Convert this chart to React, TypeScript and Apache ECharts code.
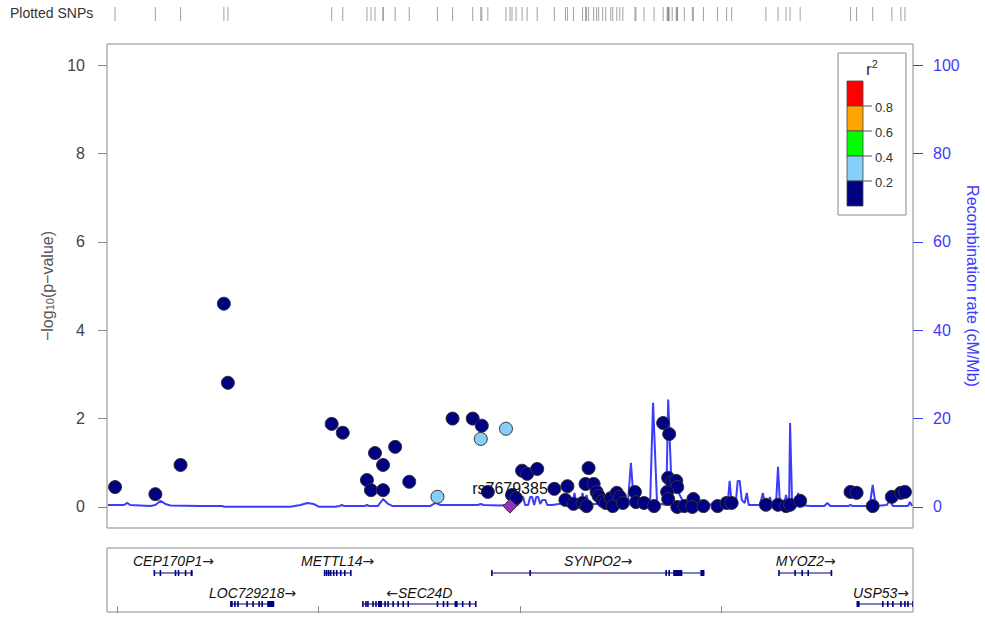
import React, { useEffect, useRef } from "react";
import * as echarts from "echarts";

const FONT = "'Liberation Sans', Arial, sans-serif";

// ---- axis ranges / ticks ----
const X_MIN = 119.39;
const X_MAX = 120.19;
const xTickValues = [119.4, 119.6, 119.8, 120.0];
const pTickValues = [0, 2, 4, 6, 8, 10];
const recTickValues = [0, 20, 40, 60, 80, 100];

// ---- SNPs (position in Mb, -log10 p, r2 with lead) ----
const snpPos = [
  119.398, 119.438, 119.463, 119.506, 119.51, 119.613, 119.624, 119.648, 119.652, 119.656,
  119.664, 119.664, 119.676, 119.69, 119.718, 119.733, 119.753, 119.762, 119.761, 119.786,
  119.768, 119.792, 119.796, 119.802, 119.807, 119.817, 119.834, 119.847, 119.845, 119.853,
  119.862, 119.865, 119.868, 119.866, 119.873, 119.876, 119.878, 119.882, 119.885, 119.89,
  119.892, 119.896, 119.899, 119.902, 119.914, 119.915, 119.923, 119.933, 119.942, 119.948,
  119.947, 119.951, 119.955, 119.956, 119.946, 119.947, 119.956, 119.963, 119.972, 119.971,
  119.982, 119.996, 120.005, 120.01, 120.044, 120.056, 120.064, 120.068, 120.078, 120.128,
  120.134, 120.15, 120.169, 120.178, 120.182,
];
const snpLogP = [
  0.45, 0.29, 0.95, 4.6, 2.81, 1.88, 1.68, 0.61, 0.38, 1.22,
  0.95, 0.38, 1.36, 0.57, 0.23, 2.0, 2.0, 1.84, 1.54, 1.77,
  0.34, 0.27, 0.2, 0.82, 0.75, 0.86, 0.41, 0.47, 0.16, 0.07,
  0.09, 0.52, 0.88, 0.02, 0.52, 0.34, 0.25, 0.14, 0.09, 0.2,
  0.02, 0.32, 0.23, 0.09, 0.34, 0.11, 0.09, 0.02, 1.9, 1.65,
  0.66, 0.57, 0.59, 0.45, 0.34, 0.18, 0.0, 0.02, 0.18, 0.0,
  0.02, 0.02, 0.09, 0.09, 0.05, 0.05, 0.02, 0.05, 0.14, 0.34,
  0.32, 0.02, 0.23, 0.32, 0.34,
];
const snpR2 = [
  0.05, 0.05, 0.05, 0.05, 0.05, 0.05, 0.05, 0.05, 0.05, 0.05,
  0.05, 0.05, 0.05, 0.05, 0.25, 0.05, 0.05, 0.05, 0.25, 0.25,
  0.05, 0.05, 0.05, 0.05, 0.05, 0.05, 0.05, 0.05, 0.05, 0.05,
  0.05, 0.05, 0.05, 0.05, 0.05, 0.05, 0.05, 0.05, 0.05, 0.05,
  0.05, 0.05, 0.05, 0.05, 0.05, 0.05, 0.05, 0.05, 0.05, 0.05,
  0.05, 0.05, 0.05, 0.05, 0.05, 0.05, 0.05, 0.05, 0.05, 0.05,
  0.05, 0.05, 0.05, 0.05, 0.05, 0.05, 0.05, 0.05, 0.05, 0.05,
  0.05, 0.05, 0.05, 0.05, 0.05,
];
const leadName = "rs7679385";
const leadPos = 119.79;
const leadLogP = 0.02;

// ---- recombination rate (Mb, cM/Mb) ----
const recPos = [
  119.391, 119.403, 119.407, 119.41, 119.413, 119.433, 119.438, 119.443, 119.448, 119.453,
  119.482, 119.504, 119.507, 119.572, 119.582, 119.589, 119.595, 119.6, 119.616, 119.621,
  119.623, 119.625, 119.646, 119.648, 119.65, 119.659, 119.664, 119.669, 119.673, 119.711,
  119.716, 119.721, 119.75, 119.758, 119.761, 119.764, 119.78, 119.785, 119.795, 119.798,
  119.8, 119.803, 119.805, 119.808, 119.81, 119.812, 119.814, 119.816, 119.818, 119.82,
  119.822, 119.825, 119.827, 119.832, 119.838, 119.843, 119.848, 119.852, 119.854, 119.856,
  119.86, 119.862, 119.864, 119.866, 119.868, 119.874, 119.899, 119.907, 119.91, 119.913,
  119.924, 119.929, 119.932, 119.936, 119.941, 119.945, 119.947, 119.95, 119.953, 119.957,
  119.961, 119.969, 119.979, 119.998, 120.006, 120.008, 120.01, 120.014, 120.016, 120.018,
  120.02, 120.023, 120.025, 120.027, 120.038, 120.041, 120.043, 120.047, 120.048, 120.05,
  120.054, 120.056, 120.058, 120.062, 120.064, 120.066, 120.067, 120.068, 120.07, 120.074,
  120.076, 120.078, 120.088, 120.102, 120.105, 120.108, 120.126, 120.128, 120.13, 120.147,
  120.15, 120.153, 120.164, 120.167, 120.17, 120.185, 120.187, 120.189,
];
const recRate = [
  0.45, 0.45, 0.45, 0.91, 0.45, 0.23, 0.45, 1.36, 0.68, 0.34,
  0.23, 0.23, 0.05, 0.05, 0.45, 0.91, 0.68, 0.05, 0.05, 0.23,
  0.45, 0.23, 0.23, 0.45, 0.23, 0.23, 1.81, 0.68, 0.23, 0.23,
  0.91, 0.45, 0.45, 0.45, 0.68, 0.45, 0.34, 0.45, 0.45, 0.45,
  2.27, 2.27, 0.45, 0.45, 2.27, 2.27, 0.45, 2.27, 2.27, 0.68,
  1.59, 1.59, 0.45, 0.45, 0.68, 0.91, 0.45, 0.45, 3.17, 0.45,
  0.45, 3.17, 0.45, 2.72, 0.45, 0.68, 0.68, 0.68, 9.98, 0.68,
  0.45, 0.45, 23.6, 0.45, 0.68, 0.45, 24.3, 6.58, 3.85, 3.4,
  1.59, 0.91, 0.68, 0.45, 0.45, 5.9, 0.68, 0.68, 5.9, 5.9,
  1.59, 0.91, 3.17, 0.45, 0.45, 3.17, 0.68, 0.68, 2.27, 0.45,
  0.45, 9.07, 0.45, 0.45, 2.72, 0.45, 0.45, 19.0, 0.45, 0.91,
  3.17, 0.45, 0.23, 0.23, 0.91, 0.23, 0.23, 0.45, 0.23, 0.23,
  4.99, 0.23, 0.45, 1.59, 0.23, 0.23, 1.13, 0.23,
];

// ---- LD legend ----
const ldBreaks = [0, 0.2, 0.4, 0.6, 0.8, 1.0];
const ldColors = ["#000080", "#87CEFA", "#00FF00", "#FFA500", "#FF0000"];
const ldTickLabels = ["0.2", "0.4", "0.6", "0.8"];
const LEAD_COLOR = "#9632B8";

// ---- genes ----
const geneNames = ["CEP170P1", "METTL14", "SYNPO2", "MYOZ2", "LOC729218", "SEC24D", "USP53"];
const geneStart = [119.437, 119.606, 119.772, 120.057, 119.513, 119.644, 120.134];
const geneEnd = [119.475, 119.632, 119.983, 120.11, 119.556, 119.756, 120.21];
const geneRow = [0, 0, 0, 0, 1, 1, 1];
const geneStrand = ["+", "+", "+", "+", "+", "-", "+"];
const geneExons: number[][][] = [
  [[119.437, 119.437], [119.443, 119.443], [119.458, 119.458], [119.461, 119.461], [119.468, 119.468], [119.473, 119.475]],
  [[119.606, 119.607], [119.608, 119.608], [119.61, 119.61], [119.612, 119.612], [119.615, 119.615], [119.618, 119.618], [119.622, 119.622], [119.626, 119.626], [119.632, 119.632]],
  [[119.772, 119.772], [119.81, 119.81], [119.945, 119.945], [119.948, 119.948], [119.952, 119.961], [119.979, 119.983]],
  [[120.057, 120.058], [120.073, 120.073], [120.08, 120.08], [120.086, 120.086], [120.109, 120.11]],
  [[119.513, 119.513], [119.514, 119.514], [119.517, 119.517], [119.52, 119.52], [119.529, 119.529], [119.535, 119.535], [119.541, 119.541], [119.544, 119.544], [119.549, 119.556]],
  [[119.644, 119.644], [119.647, 119.647], [119.649, 119.649], [119.654, 119.654], [119.657, 119.657], [119.659, 119.663], [119.666, 119.666], [119.669, 119.669], [119.674, 119.674], [119.679, 119.679], [119.684, 119.684], [119.689, 119.689], [119.718, 119.718], [119.724, 119.724], [119.728, 119.728], [119.735, 119.738], [119.743, 119.743], [119.75, 119.75], [119.756, 119.756]],
  [[120.134, 120.137], [120.16, 120.16], [120.165, 120.165], [120.17, 120.17], [120.178, 120.178], [120.182, 120.182], [120.185, 120.185], [120.19, 120.19]],
];
const GENE_COLOR = "#000080";

function ldColor(r2: number): string {
  for (let i = 0; i < ldColors.length; i++) {
    if (r2 >= ldBreaks[i] && r2 < ldBreaks[i + 1]) return ldColors[i];
  }
  return ldColors[ldColors.length - 1];
}

const BLUE = "#3c3cff";

export default function App() {
  const ref = useRef<HTMLDivElement>(null);
  useEffect(() => {
    if (!ref.current) return;
    const chart = echarts.init(ref.current, undefined, { renderer: "svg" });

    const snpData = snpPos.map((x, i) => ({
      value: [x, snpLogP[i]],
      itemStyle: { color: ldColor(snpR2[i]) },
    }));
    const rugData = [...snpPos, leadPos].map((x) => [x, 0]);
    const recData = recPos.map((x, i) => [x, recRate[i]]);
    const geneData = geneNames.map((_, i) => [geneStart[i], geneEnd[i], i]);

    // legend graphics
    const legendX = 838;
    const legendY = 53;
    const blockX = 847;
    const blockTop = 81;
    const blockH = 25;
    const legendChildren: any[] = [
      {
        type: "rect",
        shape: { x: legendX, y: legendY, width: 68, height: 162 },
        style: { fill: "#fff", stroke: "#888", lineWidth: 1 },
      },
      {
        type: "text",
        x: 872,
        y: 68,
        style: {
          text: "{r|r}{s|2}",
          align: "center",
          verticalAlign: "middle",
          rich: {
            r: { fontSize: 17, fill: "#333", fontFamily: FONT, verticalAlign: "bottom" },
            s: { fontSize: 11, fill: "#333", fontFamily: FONT, verticalAlign: "top", padding: [0, 0, 8, 0] },
          },
        },
      },
    ];
    for (let k = 0; k < ldColors.length; k++) {
      const idx = ldColors.length - 1 - k;
      legendChildren.push({
        type: "rect",
        shape: { x: blockX, y: blockTop + k * blockH, width: 16, height: blockH },
        style: { fill: ldColors[idx], stroke: "#444", lineWidth: 0.8 },
      });
    }
    for (let k = 0; k < ldTickLabels.length; k++) {
      const y = blockTop + (k + 1) * blockH;
      const lab = ldTickLabels[ldTickLabels.length - 1 - k];
      legendChildren.push({
        type: "line",
        shape: { x1: 863, y1: y, x2: 872, y2: y },
        style: { stroke: "#555", lineWidth: 1 },
      });
      legendChildren.push({
        type: "text",
        x: 875,
        y: y + 1,
        style: { text: lab, fontSize: 13, fill: "#333", align: "left", verticalAlign: "middle", fontFamily: FONT },
      });
    }

    const option: any = {
      animation: false,
      backgroundColor: "#fff",
      textStyle: { fontFamily: FONT },
      grid: [
        { left: 107, top: 44, width: 806, height: 484, show: true, borderColor: "#888", borderWidth: 1, containLabel: false, outerBoundsMode: "none" },
        { left: 107, top: 548, width: 806, height: 64, show: true, borderColor: "#888", borderWidth: 1, containLabel: false, outerBoundsMode: "none" },
        { left: 107, top: 7, width: 806, height: 14, containLabel: false, outerBoundsMode: "none" },
      ],
      xAxis: [
        { type: "value", gridIndex: 0, min: X_MIN, max: X_MAX, show: false },
        {
          type: "value",
          gridIndex: 1,
          min: X_MIN,
          max: X_MAX,
          axisLine: { show: false },
          axisTick: { show: true, length: 7, customValues: xTickValues, lineStyle: { color: "#888" } },
          axisLabel: { show: false },
          splitLine: { show: false },
        },
        { type: "value", gridIndex: 2, min: X_MIN, max: X_MAX, show: false },
      ],
      yAxis: [
        {
          type: "value",
          gridIndex: 0,
          position: "left",
          min: -0.476,
          max: 10.476,
          axisLine: { show: false },
          axisTick: { show: true, length: 9, customValues: pTickValues, lineStyle: { color: "#888" } },
          axisLabel: { customValues: pTickValues, fontSize: 16, color: "#444", margin: 22, fontFamily: FONT },
          splitLine: { show: false },
          name: "−log{sub|10}(p−value)",
          nameLocation: "middle",
          nameGap: 52,
          nameRotate: 90,
          nameMoveOverlap: false,
          nameTextStyle: {
            fontSize: 16,
            color: "#555",
            fontFamily: FONT,
            rich: { sub: { fontSize: 11, color: "#555", fontFamily: FONT, padding: [5, 0, 0, 0] } },
          },
        },
        {
          type: "value",
          gridIndex: 0,
          position: "right",
          min: -4.76,
          max: 104.76,
          axisLine: { show: false },
          axisTick: { show: true, length: 10, customValues: recTickValues, lineStyle: { color: BLUE } },
          axisLabel: { customValues: recTickValues, fontSize: 16, color: BLUE, margin: 20, fontFamily: FONT },
          splitLine: { show: false },
          name: "Recombination rate (cM/Mb)",
          nameLocation: "middle",
          nameGap: 51,
          nameRotate: -90,
          nameMoveOverlap: false,
          nameTextStyle: { fontSize: 16, color: BLUE, fontFamily: FONT },
        },
        { type: "value", gridIndex: 1, min: -1, max: 10, show: false },
        { type: "value", gridIndex: 2, min: -1, max: 1, show: false },
      ],
      graphic: [
        {
          type: "text",
          left: 10,
          top: 6,
          style: { text: "Plotted SNPs", fontSize: 14, fill: "#333", fontFamily: FONT },
        },
        { type: "group", children: legendChildren },
      ],
      series: [
        {
          type: "line",
          xAxisIndex: 0,
          yAxisIndex: 1,
          data: recData,
          showSymbol: false,
          symbol: "none",
          lineStyle: { color: BLUE, width: 2, opacity: 1 },
          z: 1,
          silent: true,
        },
        {
          type: "scatter",
          xAxisIndex: 0,
          yAxisIndex: 0,
          data: snpData,
          symbol: "circle",
          symbolSize: 13,
          itemStyle: { borderColor: "#333", borderWidth: 1, opacity: 1 },
          z: 3,
        },
        {
          type: "scatter",
          xAxisIndex: 0,
          yAxisIndex: 0,
          data: [[leadPos, leadLogP]],
          symbol: "diamond",
          symbolSize: 14,
          itemStyle: { color: LEAD_COLOR, borderColor: "#333", borderWidth: 1, opacity: 1 },
          label: {
            show: true,
            position: "top",
            distance: 2,
            formatter: leadName,
            fontSize: 16,
            color: "#111",
            fontFamily: FONT,
          },
          z: 4,
        },
        {
          type: "scatter",
          xAxisIndex: 2,
          yAxisIndex: 3,
          data: rugData,
          symbol: "rect",
          symbolSize: [1, 14],
          itemStyle: { color: "#555", opacity: 0.55 },
          silent: true,
        },
        {
          type: "custom",
          xAxisIndex: 1,
          yAxisIndex: 2,
          data: geneData,
          encode: { x: [0, 1], y: 2 },
          clip: true,
          silent: true,
          renderItem: (params: any, api: any) => {
            const i = api.value(2) as number;
            const cs = params.coordSys;
            const row = geneRow[i];
            const lineY = cs.y + (row === 0 ? 25 : 56);
            const labelY = cs.y + (row === 0 ? 13 : 45);
            const x1 = api.coord([geneStart[i], 0])[0];
            const x2 = api.coord([geneEnd[i], 0])[0];
            const right = cs.x + cs.width;
            const children: any[] = [
              {
                type: "line",
                shape: { x1, y1: lineY, x2: Math.min(x2, right), y2: lineY },
                style: { stroke: GENE_COLOR, lineWidth: 1 },
              },
            ];
            for (const ex of geneExons[i]) {
              const ea = api.coord([ex[0], 0])[0];
              const eb = Math.min(api.coord([ex[1], 0])[0], right);
              const w = Math.max(eb - ea, 1.6);
              const x0 = eb - ea < 1.6 ? ea - 0.8 : ea;
              children.push({
                type: "rect",
                shape: { x: x0, y: lineY - 3, width: w, height: 6 },
                style: { fill: GENE_COLOR },
              });
            }
            let cx = (x1 + Math.min(x2, right)) / 2;
            cx = Math.min(cx, right - 32);
            const label =
              geneStrand[i] === "+" ? "{n|" + geneNames[i] + "}{a|→}" : "{a|←}{n|" + geneNames[i] + "}";
            children.push({
              type: "text",
              x: cx,
              y: labelY,
              style: {
                text: label,
                align: "center",
                verticalAlign: "middle",
                rich: {
                  n: { fontSize: 14, fontStyle: "italic", fill: "#111", fontFamily: FONT },
                  a: { fontSize: 14, fill: "#222", fontFamily: "'DejaVu Sans', sans-serif" },
                },
              },
            });
            return { type: "group", children };
          },
        },
      ],
    };
    chart.setOption(option);
    return () => chart.dispose();
  }, []);

  return (
    <div
      ref={ref}
      style={{ position: "fixed", left: 0, top: 0, width: 985, height: 619, background: "#fff" }}
    />
  );
}
